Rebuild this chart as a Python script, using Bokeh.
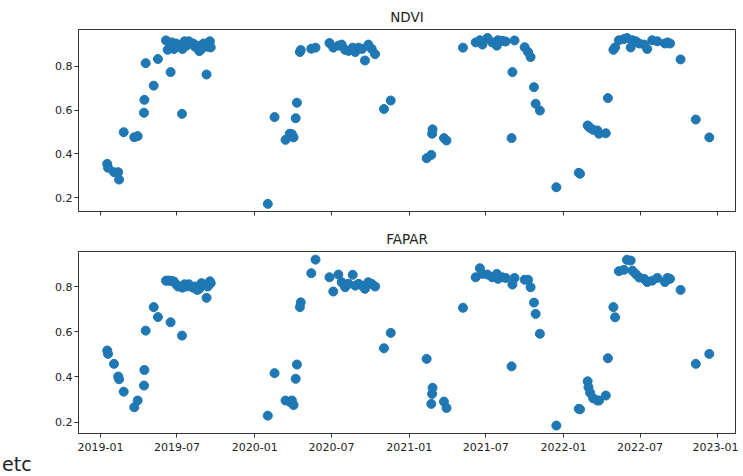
import pandas as pd
from bokeh.plotting import figure
from bokeh.layouts import column
from bokeh.models import Range1d, FixedTicker, DatetimeTickFormatter, Div, ColumnDataSource, CustomJSTickFormatter
from bokeh.embed import file_html
from bokeh.resources import INLINE

dates = [
    "2019-01-17", "2019-01-19", "2019-02-02", "2019-02-12", "2019-02-14", "2019-02-25",
    "2019-03-22", "2019-03-30", "2019-04-14", "2019-04-15", "2019-04-18", "2019-05-07",
    "2019-05-17", "2019-06-05", "2019-06-09", "2019-06-14", "2019-06-16", "2019-06-19",
    "2019-06-24", "2019-06-29", "2019-07-04", "2019-07-13", "2019-07-14", "2019-07-19",
    "2019-07-24", "2019-07-29", "2019-08-08", "2019-08-13", "2019-08-18", "2019-08-23",
    "2019-08-28", "2019-09-02", "2019-09-09", "2019-09-12", "2019-09-17", "2019-09-19",
    "2020-02-01", "2020-02-17", "2020-03-14", "2020-03-24", "2020-03-29", "2020-04-02",
    "2020-04-07", "2020-04-10", "2020-04-17", "2020-04-19", "2020-05-14", "2020-05-24",
    "2020-06-26", "2020-07-05", "2020-07-17", "2020-07-25", "2020-08-02", "2020-08-10",
    "2020-08-20", "2020-08-26", "2020-09-03", "2020-09-11", "2020-09-18", "2020-09-26",
    "2020-10-04", "2020-10-12", "2020-11-02", "2020-11-18",
    "2021-02-11", "2021-02-22", "2021-02-24", "2021-02-25", "2021-03-24", "2021-03-30",
    "2021-05-08", "2021-06-07", "2021-06-17", "2021-06-23", "2021-07-05", "2021-07-16",
    "2021-07-27", "2021-07-30", "2021-08-09", "2021-08-17", "2021-08-31", "2021-09-02",
    "2021-09-07", "2021-10-01", "2021-10-09", "2021-10-15", "2021-10-23", "2021-10-27",
    "2021-11-06", "2021-12-15",
    "2022-02-06", "2022-02-09", "2022-02-27", "2022-03-01", "2022-03-05", "2022-03-12",
    "2022-03-22", "2022-03-26", "2022-04-11", "2022-04-16", "2022-04-29", "2022-05-03",
    "2022-05-12", "2022-05-24", "2022-05-31", "2022-06-09", "2022-06-13", "2022-06-21",
    "2022-06-29", "2022-07-11", "2022-07-18", "2022-07-30", "2022-08-11", "2022-08-29",
    "2022-09-04", "2022-09-10", "2022-10-05", "2022-11-10", "2022-12-12",
]

ndvi = [
    0.354, 0.336, 0.316, 0.316, 0.282, 0.499,
    0.476, 0.481, 0.588, 0.647, 0.815, 0.712,
    0.834, 0.919, 0.876, 0.905, 0.774, 0.910,
    0.880, 0.905, 0.895, 0.583, 0.880, 0.915,
    0.895, 0.915, 0.905, 0.890, 0.895, 0.870,
    0.880, 0.905, 0.763, 0.890, 0.915, 0.887,
    0.171, 0.568, 0.464, 0.492, 0.490, 0.475,
    0.563, 0.634, 0.866, 0.875, 0.881, 0.886,
    0.907, 0.886, 0.895, 0.900, 0.876, 0.871,
    0.886, 0.866, 0.886, 0.880, 0.827, 0.900,
    0.880, 0.856, 0.605, 0.644,
    0.380, 0.395, 0.492, 0.512, 0.472, 0.461,
    0.886, 0.910, 0.920, 0.900, 0.930, 0.910,
    0.895, 0.920, 0.917, 0.914, 0.472, 0.774,
    0.919, 0.888, 0.866, 0.843, 0.705, 0.629,
    0.598, 0.247,
    0.313, 0.309, 0.530, 0.525, 0.518, 0.510,
    0.507, 0.492, 0.494, 0.655, 0.876, 0.887,
    0.920, 0.925, 0.930, 0.887, 0.920, 0.915,
    0.905, 0.900, 0.880, 0.920, 0.915, 0.905,
    0.910, 0.905, 0.832, 0.557, 0.475,
]

fapar = [
    0.517, 0.502, 0.458, 0.402, 0.390, 0.335,
    0.266, 0.296, 0.362, 0.431, 0.605, 0.709,
    0.665, 0.826, 0.826, 0.826, 0.642, 0.825,
    0.822, 0.810, 0.800, 0.583, 0.795, 0.810,
    0.800, 0.810, 0.795, 0.800, 0.785, 0.790,
    0.815, 0.810, 0.750, 0.800, 0.823, 0.815,
    0.229, 0.417, 0.296, 0.290, 0.296, 0.276,
    0.392, 0.455, 0.709, 0.730, 0.859, 0.919,
    0.841, 0.778, 0.853, 0.819, 0.797, 0.812,
    0.852, 0.804, 0.812, 0.804, 0.790, 0.819,
    0.812, 0.800, 0.527, 0.595,
    0.480, 0.281, 0.325, 0.352, 0.291, 0.263,
    0.706, 0.841, 0.881, 0.856, 0.853, 0.841,
    0.856, 0.834, 0.841, 0.838, 0.447, 0.809,
    0.838, 0.830, 0.830, 0.797, 0.729, 0.679,
    0.591, 0.185,
    0.259, 0.257, 0.381, 0.355, 0.330, 0.306,
    0.296, 0.296, 0.318, 0.483, 0.709, 0.664,
    0.868, 0.874, 0.918, 0.915, 0.870, 0.855,
    0.840, 0.834, 0.820, 0.826, 0.838, 0.820,
    0.838, 0.834, 0.785, 0.458, 0.502,
]

x_tick_labels = ["2019-01", "2019-07", "2020-01", "2020-07", "2021-01",
                 "2021-07", "2022-01", "2022-07", "2023-01"]
y_ticks = [0.2, 0.4, 0.6, 0.8]
titles = ["NDVI", "FAPAR"]

src = ColumnDataSource(dict(date=pd.to_datetime(dates), ndvi=ndvi, fapar=fapar))

x_range = Range1d(start=pd.Timestamp("2018-11-10"), end=pd.Timestamp("2023-02-12"))
x_ticks_ms = [pd.Timestamp(l + "-01").value / 1e6 for l in x_tick_labels]

FONT = "DejaVu Sans"
BLUE = "#1f77b4"
SPINE = "#333333"


def make_fig(title, col, y0, y1, height, top, bottom, show_x_labels):
    p = figure(width=738, height=height, x_axis_type="datetime", x_range=x_range,
               y_range=Range1d(y0, y1), output_backend="svg", toolbar_location=None,
               min_border_left=78, min_border_right=3, min_border_top=top,
               min_border_bottom=bottom, title=title)
    p.title.align = "center"
    p.title.text_font = FONT
    p.title.text_font_size = "13.5px"
    p.title.text_font_style = "normal"
    p.title.text_color = "#222222"
    p.title.standoff = 9
    p.scatter("date", col, source=src, size=9, color=BLUE, line_color=BLUE)
    p.grid.visible = False
    p.outline_line_color = SPINE
    p.outline_line_width = 1
    p.background_fill_color = "white"
    p.border_fill_color = "white"
    for ax in (p.xaxis[0], p.yaxis[0]):
        ax.axis_line_color = SPINE
        ax.major_tick_line_color = SPINE
        ax.major_tick_in = 0
        ax.major_tick_out = 4
        ax.minor_tick_line_color = None
        ax.major_label_text_font = FONT
        ax.major_label_text_font_size = "11px"
        ax.major_label_text_color = "#222222"
    p.xaxis.ticker = FixedTicker(ticks=x_ticks_ms)
    p.xaxis.formatter = DatetimeTickFormatter(
        days="%Y-%m", months="%Y-%m", years="%Y-%m", hours="%Y-%m")
    p.xaxis.major_label_standoff = 5
    if not show_x_labels:
        p.xaxis.formatter = CustomJSTickFormatter(code="return ''")
        p.xaxis.major_label_text_font_size = "0px"
        p.xaxis.major_label_standoff = 0
    p.yaxis.ticker = FixedTicker(ticks=y_ticks)
    p.yaxis.major_label_standoff = 2
    return p


p1 = make_fig(titles[0], "ndvi", 0.136, 0.969, 222, 29, 11, False)
p2 = make_fig(titles[1], "fapar", 0.150, 0.955, 233, 29, 22, True)

note = Div(text="etc", width=60, height=20,
           styles={"font-family": "DejaVu Sans", "font-size": "19px", "color": "#222",
                   "margin-left": "2px", "line-height": "20px",
                   "transform": "translateY(-6px)"})

layout = column(p1, p2, note, spacing=0)

open("out.html", "w").write(file_html(layout, INLINE))
